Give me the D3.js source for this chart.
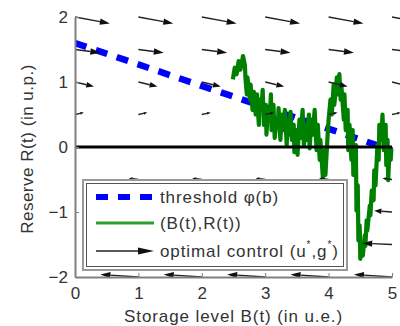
<!DOCTYPE html>
<html><head><meta charset="utf-8">
<script src="https://cdn.jsdelivr.net/npm/d3@7"></script>
<style>
html,body{margin:0;padding:0;background:#fff;}
text{font-family:"Liberation Sans",Arial,sans-serif;}
</style></head>
<body><svg id="c" width="400" height="326"></svg>
<script>
// ---- data ----
const xTicks = [0,1,2,3,4,5];
const yTicks = [-2,-1,0,1,2];
const thresholdB = [0, 5];
const thresholdR = [1.6, -0.05];
const trajB = [2.49,2.52,2.55,2.58,2.61,2.65,2.68,2.69,2.71,2.72,2.76,2.77,2.80,2.82,2.85,2.87,2.90,2.91,2.94,2.96,2.98,3.01,3.02,3.04,3.07,3.09,3.10,3.13,3.15,3.18,3.20,3.21,3.24,3.26,3.29,3.31,3.34,3.35,3.37,3.40,3.42,3.45,3.46,3.50,3.51,3.54,3.56,3.59,3.61,3.64,3.65,3.69,3.70,3.73,3.75,3.78,3.81,3.83,3.86,3.87,3.91,3.94,3.95,3.98,4.00,4.03,4.05,4.08,4.09,4.13,4.14,4.17,4.19,4.20,4.24,4.25,4.27,4.30,4.31,4.33,4.36,4.38,4.39,4.43,4.44,4.46,4.47,4.49,4.50,4.52,4.54,4.57,4.58,4.60,4.61,4.65,4.66,4.68,4.71,4.72,4.74,4.77,4.79,4.80,4.83,4.85,4.87,4.90,4.91,4.93,4.94,4.96,4.98,4.99];
const trajR = [1.04,1.22,1.12,1.32,1.19,1.40,1.26,1.04,0.81,1.07,0.73,0.96,0.57,0.85,0.50,0.81,0.34,0.73,0.57,0.88,0.34,0.65,0.19,0.54,0.42,0.81,0.26,0.65,0.14,0.45,0.29,0.60,0.11,0.50,0.26,0.57,0.03,0.42,0.19,0.54,0.11,0.34,-0.08,0.26,-0.12,0.42,0.14,0.57,0.03,0.34,0.11,0.50,-0.02,0.42,0.19,0.57,-0.05,0.34,-0.20,0.11,-0.48,-0.05,-0.43,0.11,0.42,0.73,0.50,0.96,0.65,1.07,0.81,1.12,0.73,0.96,0.42,0.81,0.26,0.57,-0.05,0.34,-0.20,0.26,-0.43,0.03,-0.98,-0.59,-1.44,-1.21,-1.72,-1.52,-1.67,-1.36,-1.52,-1.13,-1.29,-0.90,-1.05,-0.67,-0.82,-0.36,-0.59,0.03,-0.20,0.34,0.11,0.50,-0.05,0.34,-0.28,0.11,-0.51,-0.05,-0.20,-0.02];
const quiverB = [0,1,2,3,4,5];
const quiverR = [2,1.5,1,0.5,0,-0.5,-1,-1.5,-2];
const quiverU = [0.55,0.40,0.30,0.14,0,-0.15,-0.28,-0.47,-0.60];
const quiverV = [-0.10,-0.05,-0.07,0.03,0,0.02,0.02,0.02,0.04];
const legendLabels = ["threshold \u03c6(b)","(B(t),R(t))","optimal control (u"];
const xLabel = "Storage level B(t) (in u.e.)";
const yLabel = "Reserve R(t) (in u.p.)";

// ---- scales ----
const svg = d3.select("#c");
const x = d3.scaleLinear().domain([0,5]).range([75,392]);
const y = d3.scaleLinear().domain([-2,2]).range([277,17]);

svg.append("defs").append("clipPath").attr("id","clip")
  .append("rect").attr("x",x(0)).attr("y",0).attr("width",400-x(0)).attr("height",y(-2)+6);

const plot = svg.append("g").attr("clip-path","url(#clip)");

// threshold
plot.append("line")
  .attr("x1",x(thresholdB[0])).attr("y1",y(thresholdR[0]))
  .attr("x2",x(thresholdB[1])).attr("y2",y(thresholdR[1]))
  .attr("stroke","#0000ff").attr("stroke-width",6.5).attr("stroke-dasharray","12,10");

// trajectory
plot.append("path")
  .datum(trajB.map((b,i)=>[b,trajR[i]]))
  .attr("fill","none").attr("stroke","#008000").attr("stroke-width",4.2)
  .attr("stroke-linejoin","round")
  .attr("d",d3.line().x(d=>x(d[0])).y(d=>y(d[1])));

// zero line
plot.append("line").attr("x1",x(0)).attr("x2",x(5)).attr("y1",y(0)).attr("y2",y(0))
  .attr("stroke","#000").attr("stroke-width",3);

// quiver
const arrows = [];
quiverR.forEach((r,j)=>quiverB.forEach(b=>{
  if (quiverU[j]!==0) arrows.push({b,r,u:quiverU[j],v:quiverV[j]});
}));
function drawArrow(g,x0,y0,x1,y1,sw,hl,hw){
  const dx=x1-x0, dy=y1-y0, L=Math.hypot(dx,dy);
  const ux=dx/L, uy=dy/L;
  const bx=x1-ux*hl, by=y1-uy*hl;
  g.append("line").attr("x1",x0).attr("y1",y0).attr("x2",bx).attr("y2",by)
    .attr("stroke","#222").attr("stroke-width",sw);
  g.append("path").attr("d",`M${x1},${y1}L${bx-uy*hw},${by+ux*hw}L${bx+uy*hw},${by-ux*hw}Z`)
    .attr("fill","#111");
}
arrows.forEach(a=>{
  const x0=x(a.b), y0=y(a.r), x1=x(a.b+a.u), y1=y(a.r+a.v);
  const L=Math.hypot(x1-x0,y1-y0);
  drawArrow(plot,x0,y0,x1,y1,1.4,Math.min(10,L*0.4),Math.min(3.2,L*0.15));
});

// axes
const axCol="#808080";
const gx = svg.append("g").attr("transform",`translate(0,${y(-2)})`)
  .call(d3.axisBottom(x).tickValues(xTicks).tickFormat(d3.format("d")).tickSizeInner(-4).tickSizeOuter(0).tickPadding(10));
const gy = svg.append("g").attr("transform",`translate(${x(0)},0)`)
  .call(d3.axisLeft(y).tickValues(yTicks).tickFormat(d=>d<0?"\u2212"+(-d):d).tickSizeInner(-4).tickSizeOuter(0).tickPadding(7));
[gx,gy].forEach(g=>{
  g.select(".domain").attr("stroke",axCol).attr("stroke-width",2);
  g.selectAll(".tick line").attr("stroke",axCol);
  g.selectAll(".tick text").attr("fill","#333").style("font-size","17px").style("font-family","Liberation Sans, Arial, sans-serif");
});

svg.append("text").attr("x",(x(0)+x(5))/2).attr("y",322).attr("text-anchor","middle")
  .attr("fill","#333").style("font-size","17px").style("letter-spacing","0.9px").text(xLabel);
svg.append("text").attr("transform",`translate(33,149) rotate(-90)`).attr("text-anchor","middle")
  .attr("fill","#333").style("font-size","17px").style("letter-spacing","0.5px").text(yLabel);

// legend
const lg = svg.append("g");
lg.append("rect").attr("x",83).attr("y",180).attr("width",264).attr("height",90)
  .attr("fill","#fff").attr("stroke","#999").attr("stroke-width",2);
lg.append("rect").attr("x",86.5).attr("y",183.5).attr("width",257).attr("height",83)
  .attr("fill","none").attr("stroke","#555").attr("stroke-width",1);
const rows=[197,223,251];
lg.append("line").attr("x1",96).attr("x2",154).attr("y1",rows[0]).attr("y2",rows[0])
  .attr("stroke","#0000ff").attr("stroke-width",6).attr("stroke-dasharray","12,10");
lg.append("line").attr("x1",96).attr("x2",154).attr("y1",rows[1]).attr("y2",rows[1])
  .attr("stroke","#2ca02c").attr("stroke-width",3);
drawArrow(lg,96,rows[2],154,rows[2],1.5,16,3.5);
const tStyle = t=>t.attr("fill","#333").style("font-size","17px").style("letter-spacing","0.9px");
tStyle(lg.append("text").attr("x",160).attr("y",rows[0]+6).text(legendLabels[0]));
tStyle(lg.append("text").attr("x",160).attr("y",rows[1]+6).text(legendLabels[1]));
const t3 = tStyle(lg.append("text").attr("x",160).attr("y",rows[2]+6));
t3.append("tspan").text(legendLabels[2]);
t3.append("tspan").attr("dy",-9).style("font-size","10px").text("*");
t3.append("tspan").attr("dy",9).text(",g");
t3.append("tspan").attr("dy",-9).style("font-size","10px").text("*");
t3.append("tspan").attr("dy",9).text(")");
</script></body></html>
